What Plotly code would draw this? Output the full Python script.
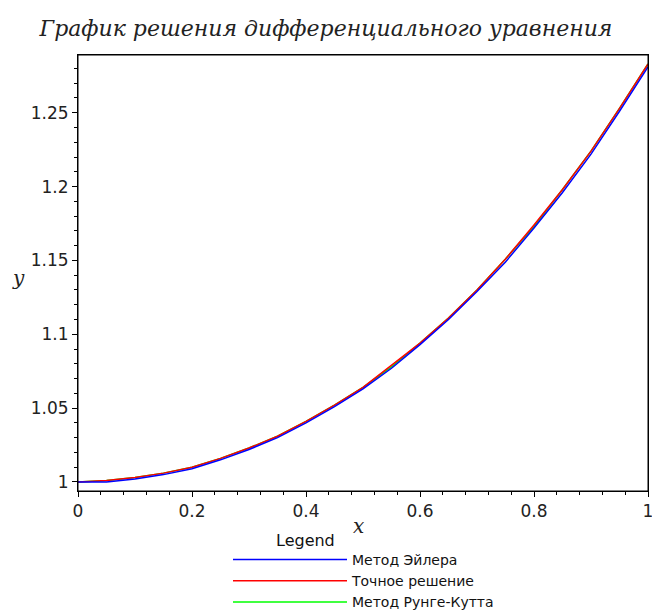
import plotly.graph_objects as go

x_vals = [0.0, 0.05, 0.1, 0.15, 0.2, 0.25, 0.3, 0.35, 0.4, 0.45, 0.5,
          0.55, 0.6, 0.65, 0.7, 0.75, 0.8, 0.85, 0.9, 0.95, 1.0]
euler = [1.000, 1.000, 1.002, 1.005, 1.009, 1.015, 1.022, 1.030, 1.040, 1.051, 1.063,
         1.077, 1.093, 1.110, 1.129, 1.149, 1.172, 1.196, 1.222, 1.251, 1.281]
exact = [1.000, 1.001, 1.003, 1.006, 1.010, 1.016, 1.023, 1.031, 1.041, 1.052, 1.064,
         1.079, 1.094, 1.111, 1.130, 1.151, 1.174, 1.198, 1.224, 1.253, 1.283]
runge = [1.000, 1.001, 1.003, 1.006, 1.010, 1.016, 1.023, 1.031, 1.041, 1.052, 1.064,
         1.078, 1.094, 1.111, 1.130, 1.151, 1.173, 1.198, 1.224, 1.253, 1.283]

names = ["Метод Эйлера", "Точное решение", "Метод Рунге-Кутта"]
colors = ["#0000ff", "#ff0000", "#00ff00"]
title_text = "График решения дифференциального уравнения"

W, H = 652, 614
L, R, T, B = 78, 4, 55, 123
PW, PH = W - L - R, H - T - B


def px_to_paper(px, py):
    return (px - L) / PW, (H - B - py) / PH


fig = go.Figure()
series = [euler, exact, runge]
# draw green, red, then blue on top; legend keeps Euler, exact, RK order
for idx in [2, 1, 0]:
    fig.add_trace(go.Scatter(
        x=x_vals, y=series[idx], mode="lines", name=names[idx],
        line=dict(color=colors[idx], width=1.5),
        legendrank=idx + 1,
    ))

tick_font = dict(family="DejaVu Sans, sans-serif", size=17, color="#222222")

lx, ly = px_to_paper(233 - 5, 544)
ann_legend = px_to_paper(305, 540)
ann_x = px_to_paper(358, 526)
ann_y = px_to_paper(18, 278)

fig.update_layout(
    width=W, height=H,
    margin=dict(l=L, r=R, t=T, b=B, autoexpand=False),
    paper_bgcolor="white", plot_bgcolor="white",
    title=dict(text=title_text, x=0.5, xanchor="center", y=1 - 28 / H, yanchor="middle",
               font=dict(family="DejaVu Serif, serif", size=22, color="#222222", style="italic")),
    xaxis=dict(range=[0, 1], showgrid=False, zeroline=False, showline=True,
               linecolor="black", linewidth=1, mirror=True,
               ticks="outside", ticklen=5, tickcolor="black", dtick=0.2, tick0=0,
               tickfont=tick_font, ticklabeloverflow="allow",
               minor=dict(ticks="outside", ticklen=3, dtick=0.04, tickcolor="black", showgrid=False)),
    yaxis=dict(range=[0.9939, 1.2891], showgrid=False, zeroline=False, showline=True,
               linecolor="black", linewidth=1, mirror=True,
               ticks="outside", ticklen=5, tickcolor="black", dtick=0.05, tick0=1,
               tickfont=tick_font, ticklabeloverflow="allow",
               minor=dict(ticks="outside", ticklen=3, dtick=0.01, tickcolor="black", showgrid=False)),
    shapes=[dict(type="rect", xref="paper", yref="paper", x0=0, y0=0, x1=1, y1=1,
                 line=dict(color="black", width=1), layer="above")],
    showlegend=True,
    legend=dict(x=lx, y=ly, xanchor="left", yanchor="top",
                font=dict(family="DejaVu Sans, sans-serif", size=14, color="#111111"),
                itemwidth=114, bgcolor="rgba(0,0,0,0)", tracegroupgap=0),
    annotations=[
        dict(text="Legend", x=ann_legend[0], y=ann_legend[1], xref="paper", yref="paper",
             showarrow=False, font=dict(family="DejaVu Sans, sans-serif", size=16, color="#111111"),
             xanchor="center", yanchor="middle"),
        dict(text="x", x=ann_x[0], y=ann_x[1], xref="paper", yref="paper",
             showarrow=False, font=dict(family="DejaVu Serif, serif", size=20, color="#222222", style="italic"),
             xanchor="center", yanchor="middle"),
        dict(text="y", x=ann_y[0], y=ann_y[1], xref="paper", yref="paper",
             showarrow=False, font=dict(family="DejaVu Serif, serif", size=20, color="#222222", style="italic"),
             xanchor="center", yanchor="middle"),
    ],
)

fig.write_html("out.html", config={"displayModeBar": False},
               post_script="document.body.style.margin='0';")
